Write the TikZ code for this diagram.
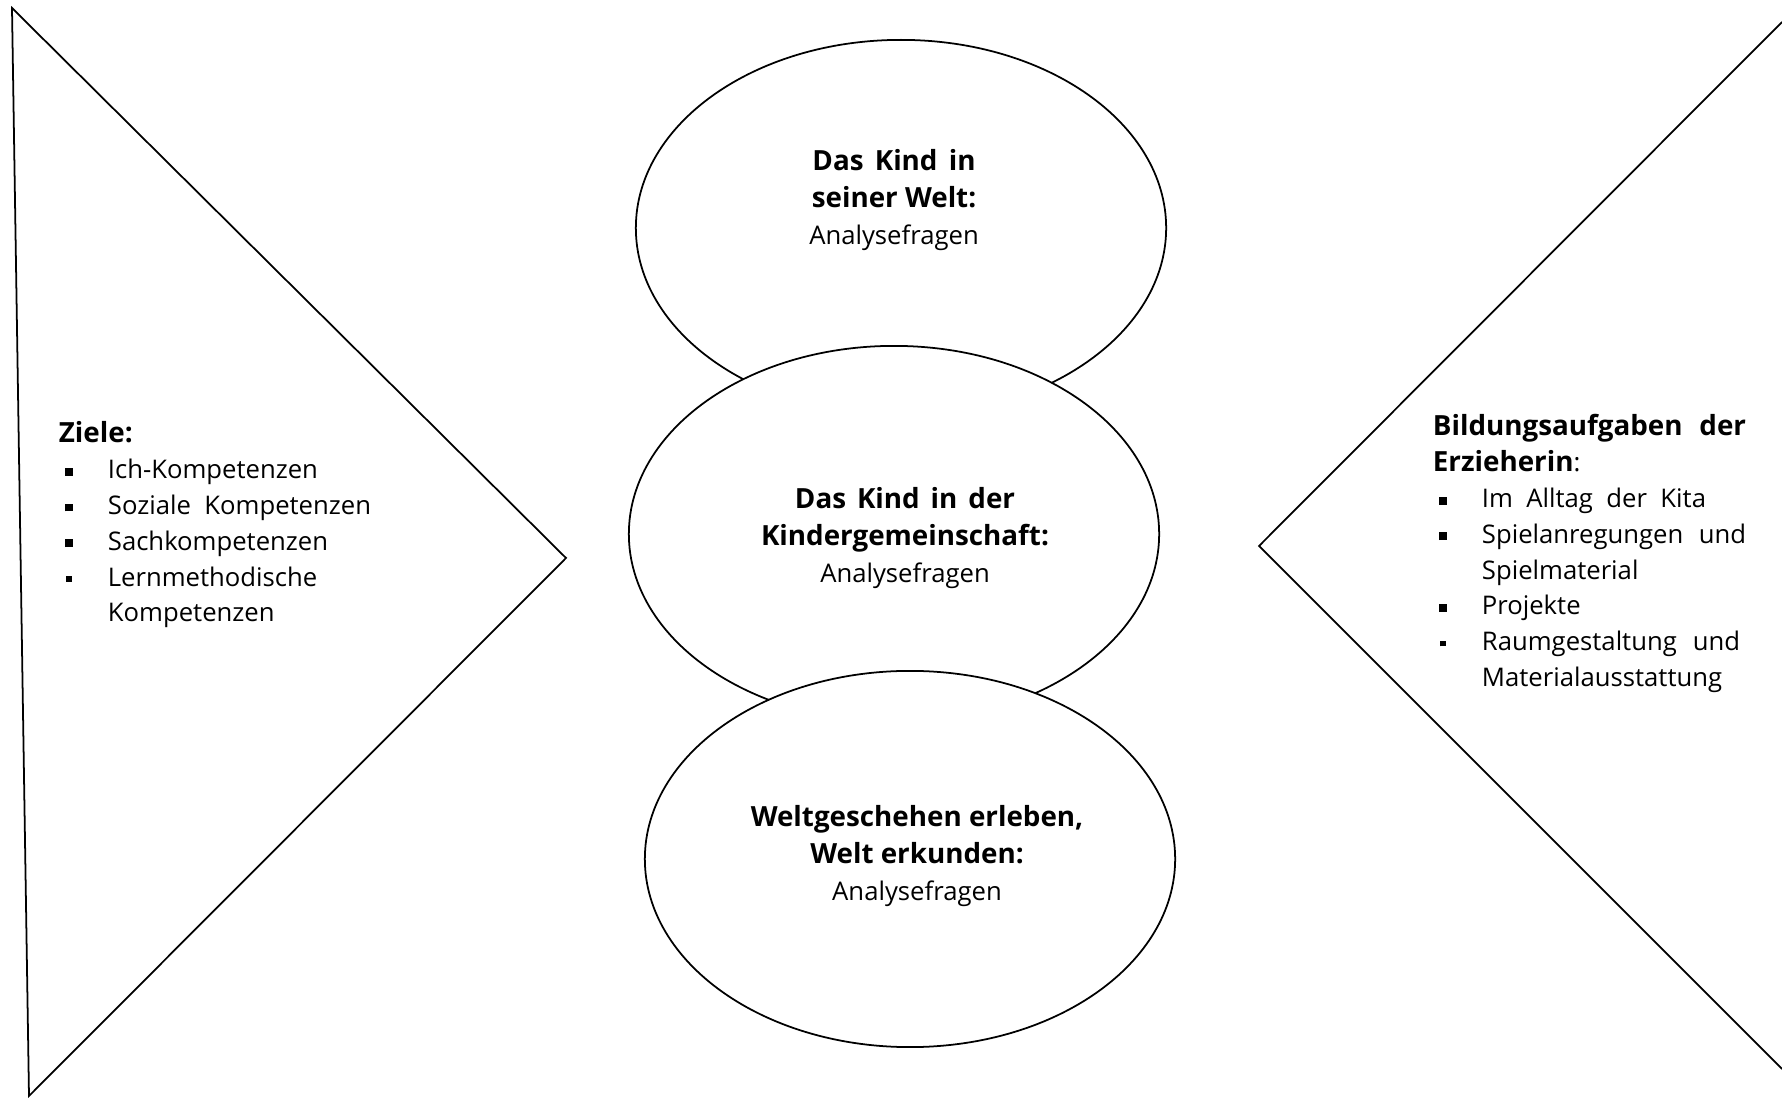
\documentclass[tikz,border=0pt]{standalone}
\usepackage{fontspec}
\setmainfont{Open Sans}
\usetikzlibrary{shapes.geometric}
\newcommand\spread[2]{\makebox[#1][s]{#2}}
\newcommand\hd[1]{{\fontsize{7.9}{10.24}\selectfont\bfseries #1}}
\newcommand\blt{\makebox[0.49cm][l]{\hspace{0.06cm}\rule[0.9pt]{2.2pt}{2.2pt}}}
\newcommand\bls{\makebox[0.49cm][l]{\hspace{0.07cm}\rule[1.2pt]{1.6pt}{1.6pt}}}
\newcommand\cont{\hspace*{0.49cm}}
\begin{document}
\begin{tikzpicture}[
			x=0.01cm, y=-0.01cm,
			line width=0.5pt,
			every node/.style={font=\fontsize{7.3}{10.24}\selectfont},
			bubble/.style={ellipse, draw, fill=white, minimum width=5.3cm, minimum height=3.76cm, inner sep=0pt},
			bubbletext/.style={align=center, inner sep=0pt, font=\fontsize{7.3}{10.55}\selectfont},
			listline/.style={anchor=base west, inner sep=0pt}
		]
		\useasboundingbox (0,0) rectangle (1782,1098);
		\draw (12,8) -- (566,558) -- (29,1096) -- cycle;
		\draw (1782,22) -- (1259,546) -- (1782,1069);
		\node[bubble] (kind) at (901,228) {};
		\node[bubble] (gemeinschaft) at (894,534) {};
		\node[bubble] (welt) at (910,859) {};
		\node[bubbletext] (kind-text) at (894,200) {\hd{\spread{1.63cm}{Das Kind in}}\\\hd{seiner Welt:}\\Analysefragen};
		\node[bubbletext] (gemeinschaft-text) at (905,538) {\hd{\spread{2.2cm}{Das Kind in der}}\\\hd{Kindergemeinschaft:}\\Analysefragen};
		\node[bubbletext] (welt-text) at (917,856) {\hd{Weltgeschehen erleben,}\\\hd{Welt erkunden:}\\Analysefragen};
		\node[listline] (ziele) at (58,443) {\hd{Ziele:}};
		\foreach \entry [count=\i] in {\blt Ich-Kompetenzen, \blt\spread{2.63cm}{Soziale Kompetenzen}, \blt Sachkompetenzen, \bls Lernmethodische, \cont Kompetenzen}
			\node[listline] (ziele-\i) at (58,443+35.8*\i) {\entry};
		\node[listline] (aufgaben) at (1432,436) {\hd{\spread{3.13cm}{Bildungsaufgaben der}}};
		\node[listline] (aufgaben-0) at (1432,472) {\hd{Erzieherin}:};
		\foreach \entry [count=\i] in {\blt\spread{2.24cm}{Im Alltag der Kita}, \blt\spread{2.64cm}{Spielanregungen und}, \cont Spielmaterial, \blt Projekte, \bls\spread{2.58cm}{Raumgestaltung und}, \cont Materialausstattung}
			\node[listline] (aufgaben-\i) at (1432,472+35.7*\i) {\entry};
	\end{tikzpicture}
\end{document}
